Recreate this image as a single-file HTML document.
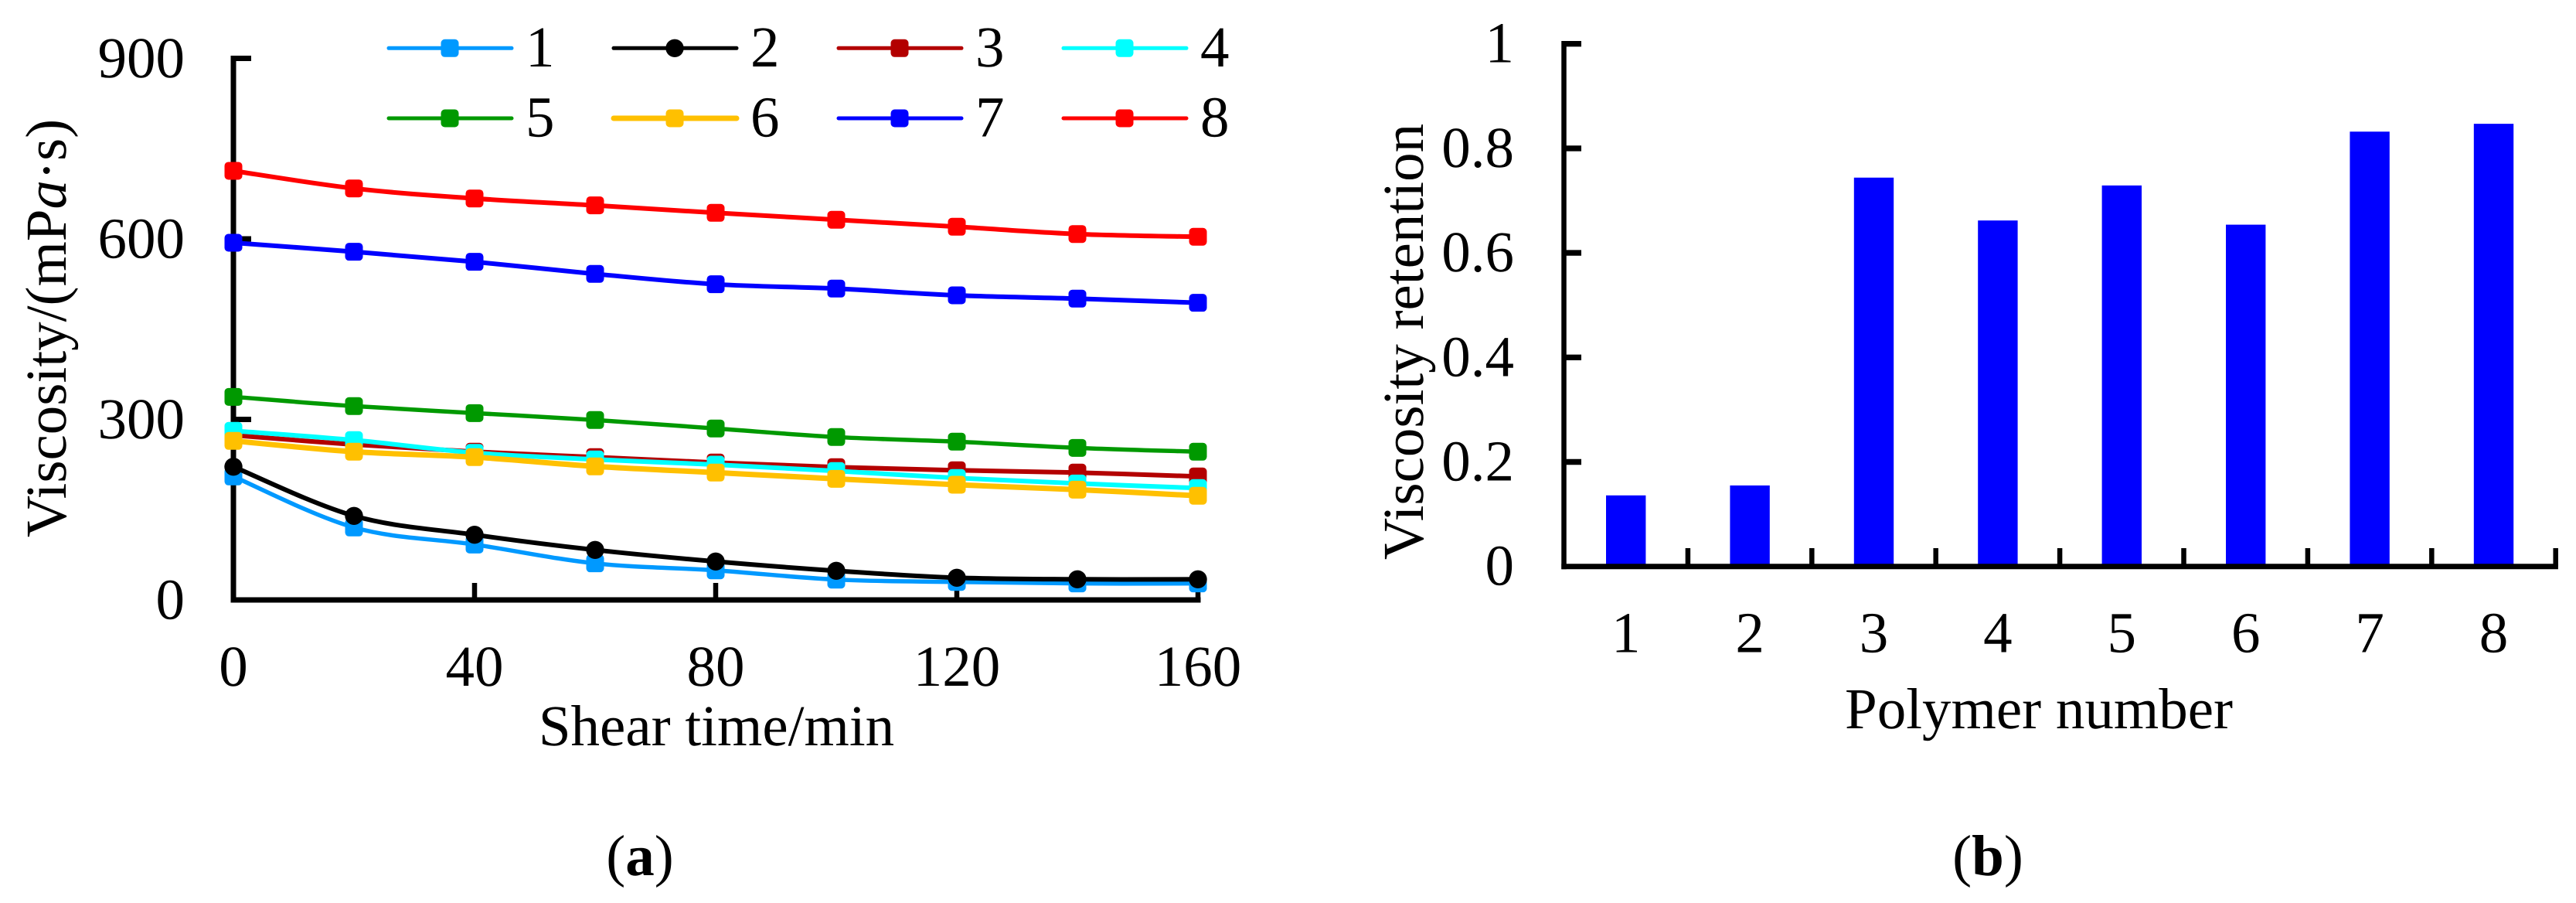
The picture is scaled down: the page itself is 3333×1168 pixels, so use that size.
<!DOCTYPE html>
<html lang="en">
<head>
<meta charset="utf-8">
<title>Viscosity versus shear time and viscosity retention</title>
<style>
html,body{margin:0;padding:0;background:#fff;width:3333px;height:1168px;overflow:hidden}
svg{display:block}
text{font-family:"Liberation Serif","Times New Roman",serif;font-size:75px;fill:#000;text-rendering:geometricPrecision}
</style>
</head>
<body>
<svg id="figure" xmlns="http://www.w3.org/2000/svg" width="3333" height="1168" viewBox="0 0 3333 1168">
  <rect x="0" y="0" width="3333" height="1168" fill="#fff"/>
  <g id="panel-a">
    <text transform="translate(85 424.5) rotate(-90)" text-anchor="middle">Viscosity/(mP<tspan font-style="italic">a</tspan>·s)</text>
    <text x="927" y="964" text-anchor="middle">Shear time/min</text>
    <text x="828" y="1132" text-anchor="middle">(<tspan font-weight="bold">a</tspan>)</text>
  </g>
  <g id="panel-b">
    <text transform="translate(1841 442) rotate(-90)" text-anchor="middle">Viscosity retention</text>
    <text x="2638" y="942" text-anchor="middle">Polymer number</text>
    <text x="2572" y="1132" text-anchor="middle">(<tspan font-weight="bold">b</tspan>)</text>
  </g>
</svg>
<script>
// ---------- Panel (a) data ----------
var shearTimes = [0, 20, 40, 60, 80, 100, 120, 140, 160];
var seriesNames = ["1", "2", "3", "4", "5", "6", "7", "8"];
var viscosity1 = [205.2, 120.4, 92.1, 60.8, 49.2, 33.8, 29.9, 27.4, 27.4];
var viscosity2 = [221.4, 139.7, 108.3, 83.1, 63.9, 48.4, 36.9, 34.3, 34.3];
var viscosity3 = [273.7, 258.3, 246.3, 237.3, 228.3, 220.6, 215.5, 211.6, 205.2];
var viscosity4 = [281.0, 265.6, 244.5, 233.5, 224.9, 214.2, 202.6, 193.6, 185.9];
var viscosity5 = [337.5, 322.1, 310.5, 299.0, 284.9, 270.7, 263.0, 252.7, 246.3];
var viscosity6 = [264.3, 246.3, 237.3, 221.9, 211.6, 201.3, 191.4, 183.3, 173.1];
var viscosity7 = [593.6, 578.6, 561.9, 541.8, 524.6, 517.4, 506.2, 500.7, 493.8];
var viscosity8 = [713.1, 683.9, 667.2, 655.7, 643.3, 631.8, 620.2, 608.1, 603.5];
var viscosityTicks = [0, 300, 600, 900];
var timeTickLabels = [0, 40, 80, 120, 160];
var timeTickMarks = [0, 40, 80, 120, 160];

// ---------- Panel (b) data ----------
var polymerNumbers = ["1", "2", "3", "4", "5", "6", "7", "8"];
var retentionValues = [0.136, 0.155, 0.744, 0.662, 0.729, 0.654, 0.832, 0.847];
var retentionTicks = [0, 0.2, 0.4, 0.6, 0.8, 1];

// ---------- Styling (separate from data) ----------
var seriesColors = ["#0099ff", "#000000", "#b30000", "#00ffff", "#009900", "#ffc000", "#0000ff", "#ff0000"];
var seriesWidths = [5.5, 6, 6, 6, 5.5, 7, 6, 6];

var SVG_NS = "http://www.w3.org/2000/svg";
function make(tag, attrs, parent) {
  var el = document.createElementNS(SVG_NS, tag);
  for (var k in attrs) { el.setAttribute(k, attrs[k]); }
  parent.appendChild(el);
  return el;
}

// ---------- Axis functions ----------
function xTime(t) { return 302 + (t / 160) * 1248; }
function yVisc(v) { return 776 - (v / 900) * 700.5; }
function xPolymerEdge(i) { return 2023.5 + i * 160.4; }
function xPolymerCenter(i) { return 2023.5 + (i + 0.5) * 160.4; }
function yRetention(v) { return 732.7 - v * 676; }

function smoothPath(px, py) {
  var d = "M" + px[0].toFixed(2) + " " + py[0].toFixed(2);
  for (var i = 0; i < px.length - 1; i++) {
    var p0 = Math.max(i - 1, 0), p3 = Math.min(i + 2, px.length - 1);
    var c1x = px[i] + (px[i + 1] - px[p0]) / 6;
    var c1y = py[i] + (py[i + 1] - py[p0]) / 6;
    var c2x = px[i + 1] - (px[p3] - px[i]) / 6;
    var c2y = py[i + 1] - (py[p3] - py[i]) / 6;
    d += "C" + c1x.toFixed(2) + " " + c1y.toFixed(2) + " " + c2x.toFixed(2) + " " + c2y.toFixed(2) + " " + px[i + 1].toFixed(2) + " " + py[i + 1].toFixed(2);
  }
  return d;
}

function drawMarker(parent, index, cx, cy) {
  var m;
  if (index === 1) {
    m = make("circle", { cx: cx, cy: cy, r: 11.7, fill: seriesColors[index] }, parent);
  } else {
    m = make("rect", { x: cx - 11.5, y: cy - 11.5, width: 23, height: 23, rx: 5, ry: 5, fill: seriesColors[index] }, parent);
  }
  return m;
}

// ---------- Panel (a) drawing ----------
var panelA = document.getElementById("panel-a");
var allViscosity = [viscosity1, viscosity2, viscosity3, viscosity4, viscosity5, viscosity6, viscosity7, viscosity8];

var axesA = make("g", { stroke: "#000", fill: "none" }, panelA);



var yAxisA = make("line", { x1: xTime(0), x2: xTime(0), y1: yVisc(900) - 3.5, y2: yVisc(0) + 3.5, "stroke-width": 7 }, axesA);



var xAxisA = make("line", { x1: xTime(0) - 3.5, x2: xTime(160) + 3.5, y1: yVisc(0), y2: yVisc(0), "stroke-width": 7 }, axesA);



viscosityTicks.forEach(function (v) {
  if (v !== 0) {
    var tick = make("line", { x1: xTime(0), x2: xTime(0) + 23, y1: yVisc(v), y2: yVisc(v), "stroke-width": 7 }, axesA);
    
    
  }
  var label = make("text", { x: 239, y: yVisc(v) + 24.5, "text-anchor": "end" }, panelA);
  
  
  label.textContent = String(v);
});

timeTickMarks.forEach(function (t) {
  if (t !== 0) {
    var tick = make("line", { x1: xTime(t), x2: xTime(t), y1: 754, y2: yVisc(0), "stroke-width": 6.5 }, axesA);
    
    
  }
});

timeTickLabels.forEach(function (t) {
  var label = make("text", { x: xTime(t), y: 887, "text-anchor": "middle" }, panelA);
  
  
  label.textContent = String(t);
});

allViscosity.forEach(function (values, s) {
  var group = make("g", {}, panelA);
  
  
  var px = shearTimes.map(xTime);
  var py = values.map(yVisc);
  var line = make("path", { d: smoothPath(px, py), fill: "none", stroke: seriesColors[s], "stroke-width": seriesWidths[s], "stroke-linejoin": "round" }, group);
  
  
  px.forEach(function (x, i) {
    var marker = drawMarker(group, s, x, py[i]);
    
    
  });
});

// Legend
var legend = make("g", {}, panelA);


seriesNames.forEach(function (name, s) {
  var col = s % 4, row = Math.floor(s / 4);
  var left = 501 + col * 291;
  var cy = row === 0 ? 62.3 : 153;
  var entry = make("g", {}, legend);
  
  
  var swatch = make("line", { x1: left + 2, x2: left + 161, y1: cy, y2: cy, stroke: seriesColors[s], "stroke-width": s === 5 ? 7 : 5, "stroke-linecap": "round" }, entry);
  
  
  var marker = drawMarker(entry, s, left + 81, cy);
  
  
  var label = make("text", { x: left + 179, y: cy + 23.7 }, entry);
  
  
  label.textContent = name;
});

// ---------- Panel (b) drawing ----------
var panelB = document.getElementById("panel-b");

retentionValues.forEach(function (v, i) {
  var bar = make("rect", { x: xPolymerCenter(i) - 25.7, y: yRetention(v), width: 51.4, height: yRetention(0) - yRetention(v), fill: "#0000ff" }, panelB);
  
  
  var label = make("text", { x: xPolymerCenter(i), y: 843.5, "text-anchor": "middle" }, panelB);
  
  
  label.textContent = polymerNumbers[i];
});

var axesB = make("g", { stroke: "#000", fill: "none" }, panelB);



var yAxisB = make("line", { x1: xPolymerEdge(0), x2: xPolymerEdge(0), y1: yRetention(1) - 3.7, y2: yRetention(0) + 3.5, "stroke-width": 6.5 }, axesB);



var xAxisB = make("line", { x1: xPolymerEdge(0) - 3.2, x2: xPolymerEdge(8) + 3.2, y1: yRetention(0), y2: yRetention(0), "stroke-width": 7 }, axesB);



retentionTicks.forEach(function (v) {
  if (v !== 0) {
    var tick = make("line", { x1: xPolymerEdge(0), x2: xPolymerEdge(0) + 22.5, y1: yRetention(v), y2: yRetention(v), "stroke-width": 7.4 }, axesB);
    
    
  }
  var label = make("text", { x: 1959, y: yRetention(v) + 24, "text-anchor": "end" }, panelB);
  
  
  label.textContent = String(v);
});

polymerNumbers.forEach(function (n, i) {
  var tick = make("line", { x1: xPolymerEdge(i + 1), x2: xPolymerEdge(i + 1), y1: 709, y2: yRetention(0), "stroke-width": 6.5 }, axesB);
  
  
});
</script>
</body>
</html>
